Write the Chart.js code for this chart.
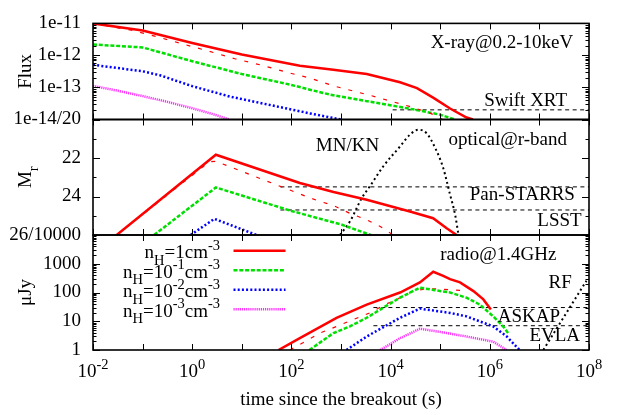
<!DOCTYPE html>
<html><head><meta charset="utf-8">
<script src="https://cdn.jsdelivr.net/npm/chart.js@4"></script>
<style>
html,body{margin:0;padding:0;background:#fff;}
#wrap{position:relative;width:618px;height:415px;overflow:hidden;}
#wrap canvas{position:absolute;left:0;top:0;}
</style></head><body>
<div id="wrap">
<canvas id="cA" width="618" height="415"></canvas>
<canvas id="cB" width="618" height="415"></canvas>
<canvas id="cC" width="618" height="415"></canvas>
</div>
<script>
// ================= DATA =================
// common x axis (time since the breakout, s)
const xTickExps  = [-2,-1,0,1,2,3,4,5,6,7,8];
const xLabelExps = [-2,0,2,4,6,8];

// ---- X-ray panel (flux) ----
const fluxTicks  = [1e-14, 1e-13, 1e-12, 1e-11];
const fluxLabels = ['1e-14/20', '1e-13', '1e-12', '1e-11'];
const xrRedT  = [0.01, 0.1, 1, 10, 148, 700, 3300, 15500, 34000, 72000, 158000, 340000, 457000];
const xrRedF  = [1.0e-11, 6.0e-12, 2.45e-12, 1.07e-12, 4.8e-13, 3.55e-13, 2.63e-13, 1.45e-13, 9.5e-14, 4.8e-14, 2.2e-14, 1.15e-14, 1.0e-14];
const xrRedDT = [0.01, 0.063, 0.224, 0.708, 2.09, 7.24, 23.4, 74, 237, 708, 4170, 24000, 63000, 112000];
const xrRedDF = [1.0e-11, 6.0e-12, 3.63e-12, 2.19e-12, 1.38e-12, 7.9e-13, 5.1e-13, 3.1e-13, 1.95e-13, 1.12e-13, 5.5e-14, 2.57e-14, 1.58e-14, 1.0e-14];
const xrGrnT  = [0.01, 0.1, 1, 10, 100, 237, 600, 2800, 13200, 39000, 100000, 200000];
const xrGrnF  = [2.19e-12, 1.78e-12, 6.6e-13, 2.63e-13, 1.2e-13, 8.5e-14, 6.0e-14, 3.9e-14, 2.57e-14, 1.9e-14, 1.41e-14, 1.0e-14];
const xrBluT  = [0.01, 0.1, 0.224, 1, 5.75, 237, 1000];
const xrBluF  = [5.1e-13, 3.2e-13, 2.4e-13, 1.1e-13, 5.2e-14, 1.55e-14, 1.0e-14];
const xrMagT  = [0.01, 0.0316, 0.1, 0.316, 1, 2.5, 5.6];
const xrMagF  = [1.12e-13, 7.9e-14, 5.4e-14, 3.55e-14, 2.24e-14, 1.5e-14, 1.0e-14];
const swiftT  = [11000, 1e8];
const swiftF  = [2e-14, 2e-14];

// ---- optical panel (M_r) ----
const magTicks  = [20, 21, 22, 23, 24, 25, 26];
const magLabels = ['', '', '22', '', '24', '', '26/10000'];
const opRedT  = [0.03, 3.0, 148, 708, 3300, 24500, 72000, 135000, 214000];
const opRedM  = [26, 21.83, 23.3, 23.77, 24.17, 24.78, 25.13, 25.65, 26];
const opRedDT = [0.03, 2.2, 3.0, 200, 380, 708, 1500, 3300, 6200, 8900, 11200];
const opRedDM = [26, 22.2, 22.17, 24.0, 24.26, 24.47, 24.87, 25.21, 25.56, 25.82, 26];
const opGrnT  = [0.17, 3.0, 10, 31.6, 100, 316, 1000, 4000];
const opGrnM  = [26, 23.53, 23.95, 24.35, 24.75, 25.1, 25.45, 26];
const opBluT  = [0.93, 2.8, 20];
const opBluM  = [26, 25.16, 26];
const knT = [955, 1510, 2630, 3800, 7080, 15500, 24500, 36300, 52500, 79400, 115000, 158000, 200000, 234000];
const knM = [26, 25.3, 24.08, 23.48, 22.44, 21.4, 20.79, 20.53, 20.7, 21.48, 22.52, 23.9, 24.95, 26];
const panT = [60, 1e8];
const panM = [23.5, 23.5];
const lsstT = [60, 1e8];
const lsstM = [24.7, 24.7];

// ---- radio panel (uJy) ----
const radTicks  = [1, 10, 100, 1000, 10000];
const radLabels = ['1', '10', '100', '1000', ''];
const raRedT  = [55, 148, 813, 3300, 15500, 39000, 72400, 115000, 158000, 251000, 468000, 741000, 1.05e6];
const raRedF  = [1, 2.57, 13.2, 38, 100, 224, 525, 380, 290, 224, 112, 57.5, 25.7];
const raRedDT = [93, 186, 380, 813, 1780, 3800, 7760, 15500, 28800, 52500, 100000, 316000];
const raRedDF = [1, 1.95, 3.9, 6.6, 11.5, 19.5, 38, 66, 112, 135, 132, 115];
const raGrnT  = [230, 324, 708, 1510, 3300, 7080, 15500, 39000, 72400, 158000, 339000, 631000, 1.17e6, 1.86e6, 2.34e6];
const raGrnF  = [1, 1.51, 3.9, 6.6, 13.2, 29.5, 66, 148, 123, 100, 66, 38, 14.8, 6.6, 3.9];
const raBluT  = [1290, 3300, 15500, 39000, 158000, 339000, 1.17e6, 2.19e6, 3.98e6];
const raBluF  = [1, 2.95, 13.2, 27.5, 19.5, 14.8, 6.6, 2.95, 1];
const raMagT  = [6170, 15500, 39000, 135000, 339000, 1.17e6, 2.19e6];
const raMagF  = [1, 2.57, 5.5, 3.9, 2.95, 1.95, 1];
const rfT = [1.2e7, 8.9e7];
const rfF = [1, 257];
const askapT = [4500, 1e8];
const askapF = [30, 30];
const evlaT  = [4500, 1e8];
const evlaF  = [7, 7];

// legend text (n_H values)
const legendTexts = [
  [['n',''],['H','sub'],['=1cm',''],['-3','sup']],
  [['n',''],['H','sub'],['=10',''],['-1','sup'],['cm',''],['-3','sup']],
  [['n',''],['H','sub'],['=10',''],['-2','sup'],['cm',''],['-3','sup']],
  [['n',''],['H','sub'],['=10',''],['-3','sup'],['cm',''],['-3','sup']]
];

// ================= STYLE / HELPERS =================
const FAM = "'Liberation Serif','Times New Roman',serif";
const FS = 19, FSS = 14.5;
Chart.defaults.font.family = FAM;
Chart.defaults.font.size = FS;
Chart.defaults.color = '#000';

const RED = '#ff0000', GRN = '#00e000', BLU = '#0000ff', MAG = '#ff30ff', BLK = '#000000';
const pts = (T, V) => T.map((t, i) => ({x: t, y: V[i]}));
function ds(T, V, color, width, dash, extra) {
  return Object.assign({data: pts(T, V), borderColor: color, backgroundColor: color,
    borderWidth: width, borderDash: dash, pointRadius: 0, fill: false, tension: 0,
    borderCapStyle: 'butt'}, extra || {});
}
const S_RED  = [RED, 2.5, []];
const S_REDD = [RED, 1.2, [4, 8]];
const S_GRN  = [GRN, 2.5, [4, 1.8]];
const S_BLU  = [BLU, 2.5, [2, 2.2]];
const S_MAG  = [MAG, 2.5, [1.2, 0.9]];
const S_DOT  = [BLK, 2, [2, 3]];
const S_THR  = [BLK, 1, [4, 3.5]];

function logTickList(majors) {
  const out = [];
  for (let i = 0; i < majors.length; i++) {
    out.push({value: majors[i], major: true});
    if (i < majors.length - 1) for (let m = 2; m <= 9; m++) out.push({value: majors[i] * m, major: false});
  }
  return out;
}
function labelFor(list, labels) {
  return v => {
    for (let i = 0; i < list.length; i++) if (Math.abs(list[i] - v) <= Math.abs(list[i]) * 1e-6) return labels[i];
    return '';
  };
}

// frame + inward ticks on all four sides
const framePlugin = {
  id: 'frame',
  afterDatasetsDraw(chart) {
    const {ctx, chartArea: a, scales: {x, y}} = chart;
    ctx.save();
    ctx.strokeStyle = '#000';
    ctx.lineWidth = 1;
    ctx.setLineDash([]);
    ctx.beginPath();
    x.ticks.forEach(t => {
      const px = Math.round(x.getPixelForValue(t.value)) + 0.5;
      const L = 6;
      ctx.moveTo(px, a.bottom); ctx.lineTo(px, a.bottom - L);
      ctx.moveTo(px, a.top); ctx.lineTo(px, a.top + L);
    });
    y.ticks.forEach(t => {
      const py = Math.round(y.getPixelForValue(t.value)) + 0.5;
      const L = t.major ? 7 : 3.5;
      ctx.moveTo(a.left, py); ctx.lineTo(a.left + L, py);
      ctx.moveTo(a.right, py); ctx.lineTo(a.right - L, py);
    });
    ctx.stroke();
    ctx.lineWidth = 1.6;
    ctx.strokeRect(a.left, a.top, a.right - a.left, a.bottom - a.top);
    ctx.restore();
  }
};

function drawRich(ctx, parts, x, yBase, align) {
  let w = 0;
  parts.forEach(([t, k]) => { ctx.font = (k ? FSS : FS) + 'px ' + FAM; w += ctx.measureText(t).width; });
  let cx = align === 'right' ? x - w : align === 'center' ? x - w / 2 : x;
  ctx.textAlign = 'left';
  ctx.textBaseline = 'alphabetic';
  parts.forEach(([t, k]) => {
    ctx.font = (k ? FSS : FS) + 'px ' + FAM;
    const dy = k === 'sub' ? 6.5 : k === 'sup' ? -8.5 : 0;
    ctx.fillText(t, cx, yBase + dy);
    cx += ctx.measureText(t).width;
  });
}

// texts: annotations, y title, x labels, legend
const textPlugin = {
  id: 'texts',
  afterDraw(chart, args, opts) {
    const {ctx, chartArea: a, scales: {x, y}} = chart;
    ctx.save();
    ctx.fillStyle = '#000';
    (opts.notes || []).forEach(n => {
      ctx.font = FS + 'px ' + FAM;
      ctx.textAlign = n.align || 'right';
      ctx.textBaseline = 'middle';
      ctx.fillText(n.text, x.getPixelForValue(n.x), y.getPixelForValue(n.y));
    });
    if (opts.ytitle) {
      ctx.save();
      ctx.translate(a.left - 68, (a.top + a.bottom) / 2);
      ctx.rotate(-Math.PI / 2);
      drawRich(ctx, opts.ytitle, 0, 6, 'center');
      ctx.restore();
    }
    if (opts.xlabels) {
      xLabelExps.forEach(e => {
        const px = x.getPixelForValue(Math.pow(10, e));
        drawRich(ctx, [['10', ''], [String(e), 'sup']], px, a.bottom + 27, 'center');
      });
    }
    if (opts.legend) {
      opts.legend.forEach((parts, i) => {
        const d = chart.data.datasets[i];
        const yy = a.top + 15.7 + i * 19.5;
        drawRich(ctx, parts, a.left + 127, yy + 7.5, 'right');
        ctx.save();
        ctx.strokeStyle = d.borderColor;
        ctx.lineWidth = d.borderWidth;
        ctx.setLineDash(d.borderDash);
        ctx.lineCap = 'butt';
        ctx.beginPath();
        ctx.moveTo(a.left + 140.5, yy); ctx.lineTo(a.left + 192.5, yy);
        ctx.stroke();
        ctx.restore();
      });
    }
    ctx.restore();
  }
};

function xScale(showTitle) {
  const s = {
    type: 'logarithmic', min: 1e-2, max: 1e8,
    afterBuildTicks: sc => { sc.ticks = xTickExps.map(e => ({value: Math.pow(10, e), major: true})); },
    ticks: {display: false},
    grid: {display: false, drawTicks: false},
    border: {display: false}
  };
  if (showTitle) {
    s.display = true;
    s.title = {display: true, text: 'time since the breakout (s)', font: {size: FS}, padding: {top: 0, bottom: 3.5}};
    s.afterFit = sc => { sc.height = 65; };
  } else {
    s.display = false;
  }
  return s;
}
function yCommon(extra) {
  return Object.assign({
    grid: {display: false, drawTicks: false},
    border: {display: false},
    afterFit: sc => { sc.width = 93; }
  }, extra);
}
function baseOptions(padding, scales, texts) {
  return {
    responsive: false, animation: false,
    layout: {padding: padding},
    scales: scales,
    plugins: {legend: {display: false}, tooltip: {enabled: false}, texts: texts}
  };
}

// ================= CHART A : X-ray =================
new Chart(document.getElementById('cA'), {
  type: 'line',
  data: {datasets: [
    ds(xrRedT, xrRedF, ...S_RED),
    ds(xrRedDT, xrRedDF, ...S_REDD),
    ds(xrGrnT, xrGrnF, ...S_GRN),
    ds(xrBluT, xrBluF, ...S_BLU),
    ds(xrMagT, xrMagF, ...S_MAG),
    ds(swiftT, swiftF, ...S_THR)
  ]},
  options: baseOptions({left: 0, right: 29, top: 5, bottom: 295.5}, {
    x: xScale(false),
    y: yCommon({
      type: 'logarithmic', min: 1e-14, max: 1e-11,
      afterBuildTicks: sc => { sc.ticks = logTickList(fluxTicks); },
      ticks: {autoSkip: false, padding: 12, callback: labelFor(fluxTicks, fluxLabels)}
    })
  }, {
    ytitle: [['Flux', '']],
    notes: [
      {text: 'X-ray@0.2-10keV', x: 4.8e7, y: 2.45e-12},
      {text: 'Swift XRT', x: 3.6e7, y: 3.9e-14}
    ]
  }),
  plugins: [framePlugin, textPlugin]
});

// ================= CHART B : optical =================
new Chart(document.getElementById('cB'), {
  type: 'line',
  data: {datasets: [
    ds(opRedT, opRedM, ...S_RED),
    ds(opRedDT, opRedDM, ...S_REDD),
    ds(opGrnT, opGrnM, ...S_GRN),
    ds(opBluT, opBluM, ...S_BLU),
    ds(knT, knM, ...S_DOT, {cubicInterpolationMode: 'monotone', tension: 0.4}),
    ds(panT, panM, ...S_THR),
    ds(lsstT, lsstM, ...S_THR)
  ]},
  options: baseOptions({left: 0, right: 29, top: 119.5, bottom: 180}, {
    x: xScale(false),
    y: yCommon({
      type: 'linear', min: 20, max: 26, reverse: true,
      afterBuildTicks: sc => { sc.ticks = magTicks.map(v => ({value: v, major: v % 2 === 0})); },
      ticks: {autoSkip: false, padding: 12, callback: labelFor(magTicks, magLabels)}
    })
  }, {
    ytitle: [['M', ''], ['r', 'sub']],
    notes: [
      {text: 'MN/KN', x: 1350, y: 21.4, align: 'center'},
      {text: 'optical@r-band', x: 3.6e7, y: 21.05},
      {text: 'Pan-STARRS', x: 5.2e7, y: 23.9},
      {text: 'LSST', x: 7.1e7, y: 25.27}
    ]
  }),
  plugins: [framePlugin, textPlugin]
});

// ================= CHART C : radio =================
new Chart(document.getElementById('cC'), {
  type: 'line',
  data: {datasets: [
    ds(raRedT, raRedF, ...S_RED),
    ds(raGrnT, raGrnF, ...S_GRN),
    ds(raBluT, raBluF, ...S_BLU),
    ds(raMagT, raMagF, ...S_MAG),
    ds(raRedDT, raRedDF, ...S_REDD),
    ds(rfT, rfF, ...S_DOT),
    ds(askapT, askapF, ...S_THR),
    ds(evlaT, evlaF, ...S_THR)
  ]},
  options: baseOptions({left: 0, right: 29, top: 235, bottom: 0}, {
    x: xScale(true),
    y: yCommon({
      type: 'logarithmic', min: 1, max: 10000,
      afterBuildTicks: sc => { sc.ticks = logTickList(radTicks); },
      ticks: {autoSkip: false, padding: 12, callback: labelFor(radTicks, radLabels)}
    })
  }, {
    ytitle: [['\u03bcJy', '']],
    xlabels: true,
    legend: legendTexts,
    notes: [
      {text: 'radio@1.4GHz', x: 2.2e7, y: 2090},
      {text: 'RF', x: 4.5e7, y: 209},
      {text: 'ASKAP', x: 2.6e7, y: 14},
      {text: 'EVLA', x: 6.6e7, y: 3.1}
    ]
  }),
  plugins: [framePlugin, textPlugin]
});
</script>
</body></html>
